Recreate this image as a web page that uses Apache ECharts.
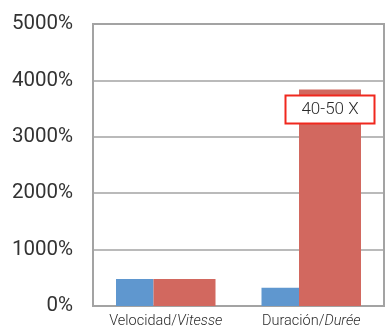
<!DOCTYPE html>
<html>
<head>
<meta charset="utf-8">
<style>
  html, body { margin: 0; padding: 0; background: #fff; }
  #chart { width: 385px; height: 329px; }
</style>
<script src="https://cdn.jsdelivr.net/npm/echarts@6/dist/echarts.min.js"></script>
</head>
<body>
<div id="chart"></div>
<script>
// Categories (Spanish / French, French part in italics)
const categories = ['Velocidad/Vitesse', 'Duración/Durée'];
const categoryRich = ['{a|Velocidad/}{b|Vitesse}', '{a|Duración/}{b|Durée}'];

// Percent values per category
const blueValues = [480, 325];
const redValues = [480, 3840];

// Callout text on the second red bar
const calloutText = '40-50 X';

const yTicks = { min: 0, max: 5000, interval: 1000 };

const chart = echarts.init(document.getElementById('chart'));

const gray = '#a3a3a3';
const textColor = '#2b2b2b';

chart.setOption({
  animation: false,
  grid: {
    left: 93, right: 1, top: 24, bottom: 17,
    show: true, borderColor: gray, borderWidth: 2, backgroundColor: 'transparent'
  },
  xAxis: {
    type: 'category',
    data: categories,
    boundaryGap: true,
    axisLine: { show: true, lineStyle: { color: gray, width: 2 } },
    axisTick: { show: false },
    axisLabel: {
      interval: 0,
      hideOverlap: false,
      margin: 8,
      formatter: (v, i) => categoryRich[i],
      rich: {
        a: { fontFamily: 'Roboto', fontWeight: 300, fontSize: 14.5, color: textColor },
        b: { fontFamily: 'Roboto', fontWeight: 300, fontSize: 14.5, color: textColor, fontStyle: 'italic' }
      }
    }
  },
  yAxis: {
    type: 'value',
    min: yTicks.min, max: yTicks.max, interval: yTicks.interval,
    axisLine: { show: true, lineStyle: { color: gray, width: 2 } },
    axisTick: { show: false },
    splitLine: { show: true, lineStyle: { color: gray, width: 1.5 } },
    axisLabel: {
      margin: 20,
      fontFamily: 'Roboto', fontSize: 20.5, color: '#333',
      formatter: v => v + '%'
    }
  },
  series: [
    {
      type: 'bar',
      data: blueValues,
      barWidth: 37.5,
      barGap: 0,
      itemStyle: { color: '#5f97cf' }
    },
    {
      type: 'bar',
      data: redValues.map((v, i) => i === 1 ? {
        value: v,
        label: {
          show: true,
          position: 'insideTop',
          distance: 7,
          formatter: calloutText,
          fontFamily: 'Roboto', fontWeight: 300, fontSize: 17, color: textColor,
          backgroundColor: '#fff',
          borderColor: '#f0281e', borderWidth: 2,
          padding: [5, 16, 4, 16],
          width: 55, align: 'center'
        }
      } : v),
      barWidth: 62,
      barGap: 0,
      itemStyle: { color: '#d2685f' }
    }
  ]
});
</script>
</body>
</html>
